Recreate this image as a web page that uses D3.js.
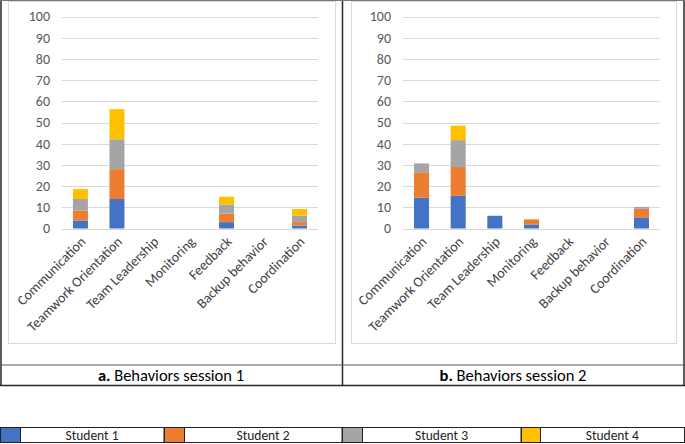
<!DOCTYPE html>
<html><head><meta charset="utf-8">
<script src="https://cdn.jsdelivr.net/npm/d3@7"></script>
<style>body{margin:0;background:#fff}svg{display:block}</style>
</head><body>
<svg id="c" width="685" height="444"></svg>
<script>
const categories = ["Communication","Teamwork Orientation","Team Leadership","Monitoring","Feedback","Backup behavior","Coordination"];
const students = ["Student 1","Student 2","Student 3","Student 4"];
const colors = ["#4472C4","#ED7D31","#A5A5A5","#FFC000"];
const yTicks = [0,10,20,30,40,50,60,70,80,90,100];
// session 1 values per student (one array per category order)
const s1Student1 = [3.8, 13.9, 0, 0, 3.0, 0, 1.4];
const s1Student2 = [4.7, 14.1, 0, 0, 4.0, 0, 1.6];
const s1Student3 = [5.4, 14.1, 0, 0, 4.3, 0, 3.1];
const s1Student4 = [4.7, 14.2, 0, 0, 3.7, 0, 3.1];
// session 2
const s2Student1 = [14.5, 15.4, 6.0, 1.9, 0, 0, 5.0];
const s2Student2 = [12.0, 13.6, 0, 2.4, 0, 0, 4.3];
const s2Student3 = [4.2, 12.7, 0, 0, 0, 0, 0.9];
const s2Student4 = [0, 6.8, 0, 0, 0, 0, 0];
const captions = [["a.", " Behaviors session 1"],["b.", " Behaviors session 2"]];

const svg = d3.select("#c");
const FONT = "Calibri, Carlito, 'Liberation Sans Narrow', 'Open Sans', sans-serif";

function panel(series, x0, x1, box, caption) {
  const g = svg.append("g");
  g.append("rect").attr("x", box[0]+0.5).attr("y", 1.5).attr("width", box[1]-box[0]).attr("height", 343-1)
    .attr("fill", "#fff").attr("stroke", "#d9d9d9").attr("stroke-width", 1);
  const x = d3.scaleBand().domain(categories).range([x0, x1]).paddingInner(0.59).paddingOuter(0.3);
  const y = d3.scaleLinear().domain([0, 100]).range([228.5, 16.5]);
  g.selectAll("line.grid").data(yTicks).join("line")
    .attr("x1", x0).attr("x2", x1).attr("y1", d => Math.round(y(d)) + 0.5).attr("y2", d => Math.round(y(d)) + 0.5)
    .attr("stroke", "#d9d9d9").attr("stroke-width", 1);
  const ya = g.append("g").attr("transform", `translate(${x0},0)`)
    .call(d3.axisLeft(y).tickValues(yTicks).tickSize(0).tickPadding(12));
  ya.select(".domain").remove();
  ya.selectAll("text").attr("fill", "#595959").style("font-family", FONT).style("font-size", "14px");
  const rows = categories.map((c, i) => {
    const r = {cat: c};
    students.forEach((s, k) => r[s] = series[k][i]);
    return r;
  });
  const stack = d3.stack().keys(students)(rows);
  stack.forEach((layer, k) => {
    g.append("g").attr("fill", colors[k]).selectAll("rect").data(layer).join("rect")
      .attr("x", d => x(d.data.cat)).attr("width", x.bandwidth())
      .attr("y", d => y(d[1])).attr("height", d => Math.max(0, y(d[0]) - y(d[1])));
  });
  const xa = g.append("g").attr("transform", `translate(0,${y(0)})`)
    .call(d3.axisBottom(x).tickSize(0).tickPadding(0));
  xa.select(".domain").remove();
  xa.selectAll("text").attr("fill", "#404040").style("font-family", FONT).style("font-size", "14px")
    .attr("text-anchor", "end").attr("dy", null).attr("y", 0)
    .attr("transform", "translate(6,14) rotate(-45)");
  const cx = (box[2] + box[3]) / 2;
  const t = g.append("text").attr("x", cx).attr("y", 381).attr("text-anchor", "middle")
    .style("font-family", FONT).style("font-size", "16.5px").attr("fill", "#000");
  t.append("tspan").attr("font-weight", "bold").text(caption[0]);
  t.append("tspan").text(caption[1]);
}

panel([s1Student1, s1Student2, s1Student3, s1Student4], 62, 318, [8, 335, 0, 342], captions[0]);
panel([s2Student1, s2Student2, s2Student3, s2Student4], 403, 660, [351, 676, 342, 684], captions[1]);

const frame = svg.append("g").attr("stroke", "#262626").attr("stroke-width", 1.5).attr("fill", "none");
frame.append("line").attr("x1", 1).attr("x2", 1).attr("y1", 0).attr("y2", 386);
frame.append("line").attr("x1", 342.5).attr("x2", 342.5).attr("y1", 0).attr("y2", 386);
frame.append("line").attr("x1", 684).attr("x2", 684).attr("y1", 0).attr("y2", 386);
frame.append("line").attr("x1", 0).attr("x2", 685).attr("y1", 385.5).attr("y2", 385.5);
svg.append("line").attr("x1", 0).attr("x2", 685).attr("y1", 0.5).attr("y2", 0.5).attr("stroke", "#777").attr("stroke-width", 1);
svg.append("line").attr("x1", 0).attr("x2", 685).attr("y1", 365).attr("y2", 365).attr("stroke", "#555").attr("stroke-width", 1.2);

const legendCells = [[0, 20, 164], [164, 184, 342], [342, 362, 521], [521, 540, 684.5]];
const lg = svg.append("g");
students.forEach((s, k) => {
  const c = legendCells[k];
  lg.append("rect").attr("x", c[0]+0.5).attr("y", 427.5).attr("width", c[1]-c[0]).attr("height", 15)
    .attr("fill", colors[k]).attr("stroke", "#222").attr("stroke-width", 1);
  lg.append("rect").attr("x", c[1]+0.5).attr("y", 427.5).attr("width", c[2]-c[1]-0.5).attr("height", 15)
    .attr("fill", "#fff").attr("stroke", "#222").attr("stroke-width", 1);
  lg.append("text").attr("x", (c[1] + c[2]) / 2).attr("y", 440).attr("text-anchor", "middle")
    .style("font-family", FONT).style("font-size", "13.5px").attr("fill", "#222").text(s);
});
</script>
</body></html>
